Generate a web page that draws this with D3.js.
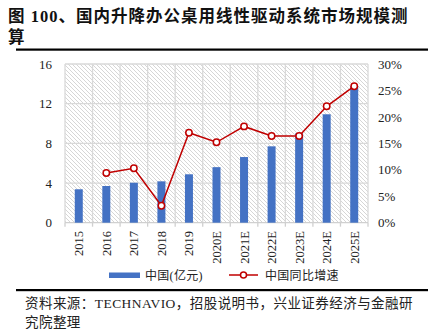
<!DOCTYPE html>
<html>
<head>
<meta charset="utf-8">
<script src="https://cdn.jsdelivr.net/npm/d3@7"></script>
<style>
  html, body { margin: 0; padding: 0; background: #fff; }
  svg { display: block; }
</style>
</head>
<body>
<svg id="chart" width="432" height="329"></svg>
<script>
// Market size (100M CNY) and YoY growth (%)
const categories = ["2015", "2016", "2017", "2018", "2019", "2020E", "2021E", "2022E", "2023E", "2024E", "2025E"];
const marketSize = [3.37, 3.70, 4.03, 4.17, 4.88, 5.60, 6.62, 7.70, 9.00, 10.93, 13.78];
const growth = [null, 9.4, 10.3, 3.2, 17.0, 15.2, 18.2, 16.4, 16.4, 22.0, 25.8];
const leftTicks = [0, 4, 8, 12, 16];
const rightTicks = [0, 5, 10, 15, 20, 25, 30];

const titleText = ["图 100、国内升降办公桌用线性驱动系统市场规模测", "算"];
const sourceText = ["资料来源：TECHNAVIO，招股说明书，兴业证券经济与金融研", "究院整理"];
const legendLabels = ["中国(亿元)", "中国同比增速"];

const svg = d3.select("#chart");
const serif = "'Liberation Serif', 'Times New Roman', 'Noto Sans CJK SC', serif";
const cjk = "'Liberation Serif', 'Noto Sans CJK SC', sans-serif";

const plot = { left: 65, right: 368, top: 64, bottom: 222.7 };

const x = d3.scaleBand().domain(categories).range([plot.left, plot.right]).paddingInner(0).paddingOuter(0);
const yL = d3.scaleLinear().domain([0, 16]).range([plot.bottom, plot.top]);
const yR = d3.scaleLinear().domain([0, 30]).range([plot.bottom, plot.top]);

// Title
svg.append("g").selectAll("text").data(titleText).join("text")
  .attr("x", 8).attr("y", (d, i) => 22 + i * 21)
  .attr("font-family", "'Liberation Serif', 'Noto Sans CJK SC', sans-serif")
  .attr("font-weight", "bold").attr("font-size", 16.5).attr("letter-spacing", 1)
  .attr("fill", "#111").text(d => d);

// Rules above and below the chart
svg.append("rect").attr("x", 16).attr("y", 48.5).attr("width", 412).attr("height", 2.2).attr("fill", "#000");
svg.append("rect").attr("x", 16).attr("y", 289).attr("width", 412).attr("height", 2.2).attr("fill", "#000");

// Hatched plot background
const defs = svg.append("defs");
const pat = defs.append("pattern").attr("id", "hatch").attr("patternUnits", "userSpaceOnUse")
  .attr("width", 4).attr("height", 4);
pat.append("rect").attr("width", 4).attr("height", 4).attr("fill", "#fff");
pat.append("path").attr("d", "M-1,-1L5,5M-1,3L1,5M3,-1L5,1")
  .attr("stroke", "#d6d6d6").attr("stroke-width", 1);
svg.append("rect").attr("x", plot.left).attr("y", plot.top)
  .attr("width", plot.right - plot.left).attr("height", plot.bottom - plot.top)
  .attr("fill", "url(#hatch)");

// Grid lines
const grid = svg.append("g").attr("stroke", "#d9d9d9").attr("stroke-width", 1.3);
grid.selectAll("line.h").data(leftTicks.filter(t => t > 0)).join("line")
  .attr("x1", plot.left).attr("x2", plot.right)
  .attr("y1", d => yL(d)).attr("y2", d => yL(d));
const bounds = categories.map(c => x(c)).concat([plot.right]);
grid.selectAll("line.v").data(bounds).join("line")
  .attr("x1", d => d).attr("x2", d => d)
  .attr("y1", plot.top).attr("y2", plot.bottom);

// Bottom axis with ticks at category boundaries
const axisG = svg.append("g").attr("stroke", "#d0d0d0").attr("stroke-width", 1.3);
axisG.append("line").attr("x1", plot.left).attr("x2", plot.right)
  .attr("y1", plot.bottom).attr("y2", plot.bottom);
axisG.selectAll("line.t").data(bounds).join("line")
  .attr("x1", d => d).attr("x2", d => d)
  .attr("y1", plot.bottom).attr("y2", plot.bottom + 4);

// Bars
const barW = 8;
svg.append("g").selectAll("rect").data(categories).join("rect")
  .attr("x", (d, i) => x(d) + x.bandwidth() / 2 - barW / 2)
  .attr("y", (d, i) => yL(marketSize[i]))
  .attr("width", barW)
  .attr("height", (d, i) => yL(0) - yL(marketSize[i]))
  .attr("fill", "#4472c4");

// Growth line
const pts = categories.map((c, i) => ({ c, v: growth[i] })).filter(d => d.v !== null);
const line = d3.line().x(d => x(d.c) + x.bandwidth() / 2).y(d => yR(d.v));
svg.append("path").datum(pts).attr("d", line)
  .attr("fill", "none").attr("stroke", "#c00000").attr("stroke-width", 1.5);
svg.append("g").selectAll("circle").data(pts).join("circle")
  .attr("cx", d => x(d.c) + x.bandwidth() / 2).attr("cy", d => yR(d.v)).attr("r", 3.2)
  .attr("fill", "#fff").attr("stroke", "#c00000").attr("stroke-width", 1.5);

// Left axis labels
const leftAxis = d3.axisLeft(yL).tickValues(leftTicks).tickSize(0).tickPadding(0);
const gL = svg.append("g").attr("transform", "translate(52,0)").call(leftAxis);
gL.select(".domain").remove();
gL.selectAll("text").attr("font-family", serif).attr("font-size", 13).attr("fill", "#222");

// Right axis labels
const rightAxis = d3.axisRight(yR).tickValues(rightTicks).tickSize(0).tickPadding(0).tickFormat(d => d + "%");
const gR = svg.append("g").attr("transform", "translate(378,0)").call(rightAxis);
gR.select(".domain").remove();
gR.selectAll("text").attr("font-family", serif).attr("font-size", 13).attr("fill", "#222");

// Category labels, rotated
svg.append("g").selectAll("text").data(categories).join("text")
  .attr("transform", d => `translate(${x(d) + x.bandwidth() / 2 + 4.5},231) rotate(-90)`)
  .attr("text-anchor", "end")
  .attr("font-family", serif).attr("font-size", 12.5).attr("fill", "#222")
  .text(d => d);

// Legend
const lg = svg.append("g");
lg.append("rect").attr("x", 109).attr("y", 272.5).attr("width", 31).attr("height", 5.5).attr("fill", "#4472c4");
lg.append("text").attr("x", 145).attr("y", 280).attr("font-family", cjk).attr("font-size", 12)
  .attr("letter-spacing", 0.3).attr("fill", "#222").text(legendLabels[0]);
lg.append("line").attr("x1", 229).attr("x2", 258).attr("y1", 275).attr("y2", 275)
  .attr("stroke", "#c00000").attr("stroke-width", 1.5);
lg.append("circle").attr("cx", 243.5).attr("cy", 275).attr("r", 3)
  .attr("fill", "#fff").attr("stroke", "#c00000").attr("stroke-width", 1.5);
lg.append("text").attr("x", 265).attr("y", 280).attr("font-family", cjk).attr("font-size", 12)
  .attr("letter-spacing", 0.3).attr("fill", "#222").text(legendLabels[1]);

// Source note
svg.append("g").selectAll("text").data(sourceText).join("text")
  .attr("x", 25).attr("y", (d, i) => 308 + i * 19)
  .attr("font-family", cjk).attr("font-size", 13.5).attr("letter-spacing", 0.45)
  .attr("fill", "#222").text(d => d);
</script>
</body>
</html>
